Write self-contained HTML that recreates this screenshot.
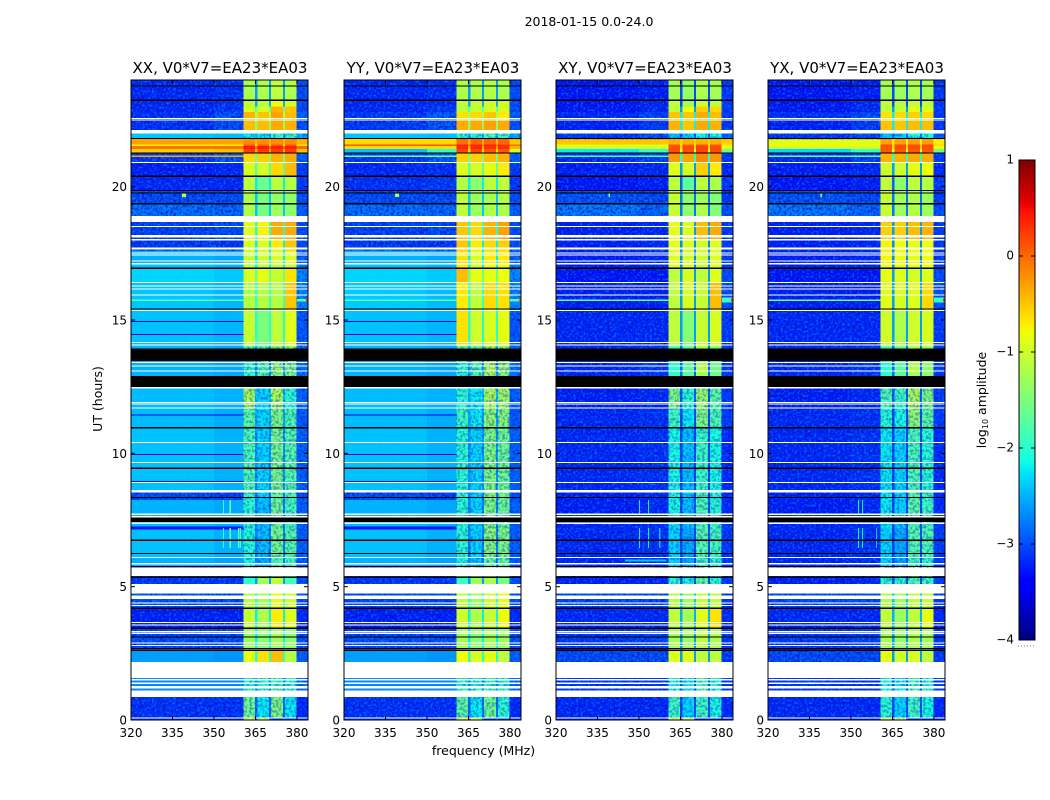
<!DOCTYPE html>
<html lang="en">
<head>
<meta charset="utf-8">
<title>2018-01-15 0.0-24.0</title>
<style>
html,body{margin:0;padding:0;background:#fff;width:1050px;height:800px;overflow:hidden}
svg{display:block}
text{font-family:"DejaVu Sans","Liberation Sans",sans-serif;fill:#000}
.tick{font-size:12px}
.label{font-size:12.5px}
.title{font-size:15px}
</style>
</head>
<body>
<svg id="figure" xmlns="http://www.w3.org/2000/svg" width="1050" height="800" viewBox="0 0 1050 800">
  <defs>
    <filter id="speckle-dark" x="0" y="0" width="1" height="1" color-interpolation-filters="sRGB">
      <feTurbulence type="fractalNoise" baseFrequency="0.38" numOctaves="2" seed="3"/>
      <feColorMatrix type="matrix" values="0 0 0 0 0  0 0 0 0 0.08  0 0 0 0 0.75  4 0 0 0 -1.7"/>
    </filter>
    <filter id="speckle-light" x="0" y="0" width="1" height="1" color-interpolation-filters="sRGB">
      <feTurbulence type="fractalNoise" baseFrequency="0.42" numOctaves="2" seed="11"/>
      <feColorMatrix type="matrix" values="0 0 0 0 0  0 0 0 0 0.6  0 0 0 0 1  4 0 0 0 -2"/>
    </filter>
  </defs>
  <text class="label" x="589" y="26" text-anchor="middle">2018-01-15 0.0-24.0</text>
  <text class="label" x="483.5" y="755" text-anchor="middle">frequency (MHz)</text>
  <text class="label" transform="translate(102,399) rotate(-90)" text-anchor="middle">UT (hours)</text>
  <text class="label" transform="translate(986,400) rotate(-90)" text-anchor="middle">log<tspan font-size="8" dy="2">10</tspan><tspan dy="-2"> amplitude</tspan></text>
  <g id="panels"></g>
  <g id="colorbar"></g>
  <line x1="1018" y1="646" x2="1035" y2="646" stroke="#777" stroke-width="1" stroke-dasharray="1 2"/>
</svg>
<script>
// UT row boundaries (hours) of the dynamic spectrum, top to bottom
const rowEdges = [24,23.24,23.0,22.8,22.5,22.0,21.78,21.58,21.52,21.42,21.27,20.9,20.39,19.86,19.36,18.9,18.0,17.6,17.1,16.94,16.4,15.42,14.0,12.9,12.44,11.7,10.96,8.54,8.25,7.75,7.2,6.1,5.73,5.1,4.2,3.44,2.67,2.17,0.87,0.05,0];
// Frequency boundaries (MHz) of the columns
const freqEdges = [320,350,360.6,364.8,365.7,369.9,370.6,375,375.7,379.9,384];
// Per-row log10 amplitude: bgLeft, bgRight, band1, band2, band3, band4, gap, edge
const bandLookup = [0,1,2,6,3,6,4,6,5,7];

const xxRows = [
[-3.2,-3.15,-1.22,-1.2,-1.1,-1.2,-2.6,-3.0],
[-3.2,-3.15,-1.1,-1.1,-.8,-.95,-2.5,-3.0],
[-3.2,-3.1,-.95,-.95,-.4,-.5,-1.6,-3.0],
[-3.15,-2.95,-.4,-.5,-.3,-.45,-1.2,-2.9],
[-3.15,-3.0,-.45,-.45,-.35,-.4,-1.4,-3.0],
[-2.4,-2.45,-2.2,-2.2,-1.9,-2.0,-2.5,-2.5],
[-.3,-.3,-.2,-.2,-.2,-.2,-.4,-.4],
[-.75,-.75,.1,.1,.1,.1,-.7,-.7],
[-.05,-.05,.4,.4,.35,.35,0,0],
[-.55,-.5,.25,.25,.25,.25,-.3,-.5],
[-3.1,-2.9,-.6,-.55,-.4,-.35,-1.5,-2.9],
[-3.25,-3.2,-.95,-.95,-.6,-.45,-1.7,-3.1],
[-3.2,-3.2,-1.1,-1.6,-1.1,-1.15,-2.2,-3.1],
[-3.0,-3.0,-1.2,-1.5,-1.35,-1.35,-2.4,-3.0],
[-2.8,-2.85,-1.2,-1.55,-1.3,-1.4,-2.4,-2.9],
[-3.05,-3.0,-.9,-.75,-.35,-.35,-2.0,-3.0],
[-3.1,-3.1,-.95,-.9,-.7,-.5,-2.2,-3.0],
[-2.5,-2.55,-1.05,-1.0,-.95,-.9,-2.2,-2.9],
[-2.42,-2.48,-1.1,-1.1,-1.1,-1.0,-2.2,-2.7],
[-2.32,-2.38,-.95,-.85,-1.05,-.65,-1.6,-2.7],
[-2.4,-2.47,-1.15,-1.15,-1.15,-.5,-1.9,-2.7],
[-2.42,-2.48,-1.05,-1.5,-1.1,-.9,-2.0,-2.95],
[-2.5,-2.55,-1.95,-1.8,-1.4,-1.55,-2.6,-2.8],
[-2.5,-2.55,-1.95,-1.8,-1.4,-1.55,-2.6,-2.8],
[-2.45,-2.5,-1.25,-2.3,-1.25,-2.0,-2.4,-2.9],
[-2.45,-2.52,-1.7,-2.25,-1.5,-1.8,-2.5,-2.95],
[-2.42,-2.5,-1.8,-2.3,-1.55,-1.75,-2.6,-2.9],
[-3.0,-3.05,-1.9,-2.3,-1.65,-1.8,-2.7,-3.0],
[-2.5,-2.55,-2.0,-2.4,-1.6,-1.85,-2.7,-2.9],
[-2.45,-2.52,-2.0,-2.4,-1.6,-1.85,-2.7,-2.9],
[-2.42,-2.5,-2.05,-2.4,-1.55,-1.75,-2.7,-2.9],
[-2.5,-2.57,-2.1,-2.5,-1.8,-1.9,-2.7,-2.9],
[-3.1,-3.1,-2.0,-1.25,-1.1,-1.85,-2.6,-3.0],
[-2.95,-3.0,-1.1,-1.25,-.85,-1.0,-2.0,-3.0],
[-3.25,-3.25,-1.05,-1.2,-.7,-.9,-2.2,-3.2],
[-3.0,-3.0,-1.3,-1.4,-1.25,-1.4,-2.2,-3.0],
[-2.6,-2.65,-.85,-.65,-.45,-1.15,-2.0,-2.9],
[-2.7,-2.7,-2,-2,-1.9,-2,-2.6,-2.8],
[-3.15,-3.15,-1.6,-2.2,-1.5,-2.2,-2.8,-3.2],
[-3.1,-3.1,-.95,-.95,-3.1,-3.1,-2.8,-3.1]
];
const yyRows = [
[-3.2,-3.15,-1.2,-1.2,-1.15,-1.2,-2.6,-3.0],
[-3.2,-3.15,-1.1,-1.05,-1.0,-1.0,-2.5,-3.0],
[-3.2,-3.1,-1.1,-1.05,-.95,-.95,-1.6,-3.0],
[-3.1,-2.9,-.65,-.6,-.5,-.7,-1.2,-2.9],
[-3.1,-2.95,-.35,-.35,-.3,-.35,-1.4,-3.0],
[-2.4,-2.45,-2.0,-2.0,-1.8,-1.9,-2.5,-2.5],
[-.6,-.6,-.05,0,0,0,-.4,-.5],
[.1,.1,.35,.35,.35,.3,0,0],
[-.6,-.6,.35,.35,.3,.3,-.3,-.4],
[-2.4,-1.9,.2,.2,.1,.1,-.6,-1.0],
[-3.1,-2.9,-.55,-.55,-.45,-.4,-1.5,-2.9],
[-3.2,-3.15,-.9,-.95,-.85,-.7,-1.7,-3.1],
[-3.15,-3.1,-1.15,-1.4,-1.1,-1.1,-2.2,-3.1],
[-3.0,-3.0,-1.1,-1.3,-1.25,-1.15,-2.4,-3.0],
[-2.8,-2.85,-1.1,-1.3,-1.2,-1.2,-2.4,-2.9],
[-3.05,-3.0,-.5,-.6,-.4,-.3,-2.0,-3.0],
[-3.1,-3.1,-.5,-.7,-.6,-.55,-2.2,-3.0],
[-2.5,-2.55,-.65,-.9,-.7,-.7,-2.2,-2.9],
[-2.42,-2.48,-.7,-.95,-.8,-.8,-2.2,-2.7],
[-2.32,-2.38,-.45,-.85,-.85,-.8,-1.6,-2.7],
[-2.38,-2.45,-.7,-1.1,-.6,-.65,-1.9,-2.7],
[-2.42,-2.48,-.65,-1.0,-.95,-.85,-2.0,-2.95],
[-2.5,-2.55,-2.0,-1.8,-1.25,-1.4,-2.6,-2.8],
[-2.5,-2.55,-2.0,-1.8,-1.25,-1.4,-2.6,-2.8],
[-2.45,-2.5,-2.0,-2.2,-1.25,-1.3,-2.4,-2.9],
[-2.45,-2.52,-1.9,-2.2,-1.4,-1.45,-2.5,-2.95],
[-2.42,-2.5,-2.0,-2.3,-1.5,-1.6,-2.6,-2.9],
[-3.0,-3.05,-2.0,-2.3,-1.45,-1.55,-2.7,-3.0],
[-2.5,-2.55,-2.0,-2.3,-1.5,-1.6,-2.7,-2.9],
[-2.45,-2.52,-2.0,-2.3,-1.5,-1.6,-2.7,-2.9],
[-2.42,-2.5,-2.0,-2.3,-1.45,-1.5,-2.7,-2.9],
[-2.5,-2.57,-2.1,-2.4,-1.7,-1.7,-2.7,-2.9],
[-3.1,-3.1,-1.9,-1.3,-1.2,-1.5,-2.6,-3.0],
[-3.0,-3.0,-1.1,-1.3,-1.0,-.85,-2.0,-3.0],
[-3.25,-3.25,-1.0,-1.2,-1.05,-.8,-2.2,-3.2],
[-3.0,-3.0,-1.25,-1.4,-1.25,-1.3,-2.2,-3.0],
[-2.6,-2.65,-.8,-.95,-.85,-1.1,-2.0,-2.9],
[-2.7,-2.7,-2,-2,-1.9,-2,-2.6,-2.8],
[-3.15,-3.15,-1.7,-2.2,-1.6,-2.0,-2.8,-3.2],
[-3.1,-3.1,-.95,-.95,-3.1,-3.1,-2.8,-3.1]
];
const xyRows = [
[-3.3,-3.25,-1.25,-1.35,-1.2,-1.25,-3,-3.1],
[-3.3,-3.2,-1.1,-1.3,-1.0,-1.1,-3,-3.1],
[-3.3,-3.2,-1.1,-.8,-.55,-.6,-2.6,-3.1],
[-3.2,-3.05,-.5,-.5,-.35,-.45,-2.2,-3.1],
[-3.25,-3.1,-.4,-.5,-.35,-.4,-2.2,-3.1],
[-3.1,-3,-2.4,-2.3,-2.1,-2.1,-2.8,-2.9],
[-.5,-.5,-.4,-.4,-.4,-.4,-.55,-.55],
[-.9,-.9,.1,.1,.1,.1,-.7,-.7],
[-.95,-.95,.15,.15,.2,.15,-.6,-.8],
[-2.2,-1.9,.15,.15,.2,.15,-.9,-1.6],
[-3.2,-3.05,-.25,-.3,-.15,-.25,-2,-3.1],
[-3.25,-3.2,-.9,-.95,-.55,-.7,-2.6,-3.2],
[-3.3,-3.25,-1.1,-1.7,-1.1,-1.2,-2.9,-3.1],
[-2.95,-3,-1.05,-1.4,-1.3,-1.45,-2.8,-3.1],
[-2.75,-2.85,-1.05,-1.4,-1.2,-1.45,-2.8,-3],
[-3.25,-3.2,-.85,-.9,-.45,-.35,-2.6,-3.1],
[-3.25,-3.2,-.9,-.95,-1.0,-.9,-2.7,-3.1],
[-3.25,-3.2,-.9,-.95,-1.0,-.9,-2.7,-3.1],
[-3.25,-3.2,-.95,-.95,-1.05,-.9,-2.7,-3.1],
[-3.3,-3.3,-1.1,-.95,-1.1,-.9,-2.6,-3],
[-3.25,-3.25,-1.1,-.95,-1.05,-.45,-2.6,-3],
[-3.2,-3.2,-1.1,-1.45,-1.05,-.95,-2.6,-3.1],
[-3.2,-3.1,-2,-1.7,-1.2,-1.6,-2.9,-3.1],
[-3.2,-3.1,-2,-1.7,-1.2,-1.6,-2.9,-3.1],
[-3.25,-3.2,-1.5,-2,-1.35,-1.7,-2.9,-3.1],
[-3.2,-3.15,-1.9,-2.2,-1.5,-1.8,-3,-3.1],
[-3.2,-3.15,-2.1,-2.4,-1.9,-2.1,-3,-3.2],
[-3.25,-3.2,-2.1,-2.4,-1.8,-2.0,-3,-3.2],
[-3.25,-3.2,-2.1,-2.4,-1.8,-2.0,-3,-3.2],
[-3.2,-3.15,-2.2,-2.4,-1.8,-1.9,-3,-3.1],
[-3.2,-3.15,-2.3,-2.5,-1.75,-1.85,-3,-3.1],
[-3.2,-3.15,-2.3,-2.5,-1.9,-2.0,-3,-3.1],
[-3.25,-3.2,-2.0,-2.1,-1.7,-2.0,-3,-3.1],
[-3.0,-3.0,-1.15,-1.3,-1.05,-1.1,-2.4,-3.1],
[-3.2,-3.2,-1.1,-1.25,-.9,-.65,-2.5,-3.2],
[-3.1,-3.05,-1.25,-1.3,-1.1,-1.2,-2.6,-3.1],
[-3.0,-3.0,-.9,-.9,-1.1,-1.1,-2.6,-3.1],
[-3.1,-3.1,-2.1,-2.2,-1.8,-2.0,-2.9,-3.1],
[-3.2,-3.2,-1.9,-2.3,-1.9,-2.1,-3,-3.2],
[-3.2,-3.2,-.95,-.95,-3.2,-3.2,-3,-3.2]
];
const yxRows = [
[-3.3,-3.25,-1.25,-1.3,-1.2,-1.25,-3,-3.1],
[-3.3,-3.2,-1.1,-1.15,-1.1,-1.1,-3,-3.1],
[-3.3,-3.2,-1.1,-1.05,-.85,-.9,-2.6,-3.1],
[-3.15,-3.0,-.65,-.6,-.55,-.6,-2.2,-3.1],
[-3.25,-3.1,-.5,-.5,-.45,-.45,-2.2,-3.1],
[-3.1,-3,-2.4,-2.3,-2.1,-2.1,-2.8,-2.9],
[-.9,-.9,-.3,-.3,-.3,-.3,-.7,-.7],
[-.75,-.75,.15,.15,.15,.15,-.6,-.6],
[-1.0,-1.0,.1,.15,.15,.15,-.6,-.8],
[-2.3,-1.9,.1,.1,.1,.1,-.9,-1.6],
[-3.2,-3.05,-.4,-.4,-.35,-.35,-2,-3.1],
[-3.25,-3.2,-1.0,-1.0,-.85,-.8,-2.6,-3.2],
[-3.3,-3.25,-1.1,-1.4,-1.1,-1.15,-2.9,-3.1],
[-2.95,-3,-1.05,-1.25,-1.2,-1.3,-2.8,-3.1],
[-2.75,-2.85,-1.05,-1.3,-1.15,-1.3,-2.8,-3],
[-3.25,-3.2,-.55,-.55,-.45,-.4,-2.6,-3.1],
[-3.25,-3.2,-.75,-.8,-.85,-.8,-2.7,-3.1],
[-3.25,-3.2,-.75,-.8,-.85,-.8,-2.7,-3.1],
[-3.25,-3.2,-.8,-.85,-.9,-.85,-2.7,-3.1],
[-3.3,-3.3,-.85,-.9,-.95,-.9,-2.6,-3],
[-3.25,-3.25,-.9,-.95,-.9,-.6,-2.6,-3],
[-3.2,-3.2,-1.0,-1.2,-1.0,-.95,-2.6,-3.1],
[-3.2,-3.1,-2,-1.7,-1.2,-1.4,-2.9,-3.1],
[-3.2,-3.1,-2,-1.7,-1.2,-1.4,-2.9,-3.1],
[-3.25,-3.2,-1.8,-1.9,-1.25,-1.5,-2.9,-3.1],
[-3.2,-3.15,-2.0,-2.1,-1.4,-1.7,-3,-3.1],
[-3.2,-3.15,-2.2,-2.3,-1.8,-2.0,-3,-3.2],
[-3.25,-3.2,-2.2,-2.3,-1.7,-1.9,-3,-3.2],
[-3.25,-3.2,-2.2,-2.3,-1.7,-1.9,-3,-3.2],
[-3.2,-3.15,-2.2,-2.4,-1.8,-1.85,-3,-3.1],
[-3.2,-3.15,-2.3,-2.5,-1.75,-1.8,-3,-3.1],
[-3.2,-3.15,-2.3,-2.5,-1.9,-2.0,-3,-3.1],
[-3.25,-3.2,-2.0,-2.0,-1.8,-1.9,-3,-3.1],
[-3.0,-3.0,-1.2,-1.3,-1.1,-1.05,-2.4,-3.1],
[-3.2,-3.2,-1.1,-1.3,-1.1,-.85,-2.5,-3.2],
[-3.1,-3.05,-1.25,-1.35,-1.2,-1.25,-2.6,-3.1],
[-3.0,-3.0,-.85,-1.0,-.95,-1.1,-2.6,-3.1],
[-3.1,-3.1,-2.1,-2.2,-1.9,-2.0,-2.9,-3.1],
[-3.2,-3.2,-2.0,-2.3,-1.9,-2.1,-3,-3.2],
[-3.2,-3.2,-.95,-.95,-3.2,-3.2,-3,-3.2]
];

// Narrow features: ut0, ut1, log10 amplitude, freq0, freq1
const xxFeatures = [[15.72,15.77,-1.7,320,360.6],[15.7,15.78,-1.8,380,384],[15.7,15.8,.3,383.2,384],[19.62,19.78,-1,338.4,339.8],
[14.92,14.96,-3.6,320,360.6],[14.43,14.47,-3.6,320,360.6],[11.42,11.46,-3.6,320,360.6],[9.93,9.97,-3.6,320,360.6],[8.93,8.97,-3.6,320,360.6],[7.15,7.25,-3.3,320,360.6],[21.12,21.16,-.3,320,360.6],[6.45,7.2,-1.9,353.3,353.7],[6.45,7.2,-1.6,355.7,356.1],[6.45,7.2,-1.6,358.6,359],[6.45,7.2,-1.9,359.3,359.7],[7.75,8.25,-1.9,353.3,353.7],[7.75,8.25,-1.6,355.7,356.1]];
const yyFeatures = [[15.72,15.77,-1.7,320,360.6],[15.7,15.78,-1.8,380,384],[15.7,15.8,.1,383.2,384],[19.62,19.78,-1.2,338.4,339.8],
[14.92,14.96,-3.6,320,360.6],[14.43,14.47,-3.6,320,360.6],[11.42,11.46,-3.6,320,360.6],[9.93,9.97,-3.6,320,360.6],[8.93,8.97,-3.6,320,360.6],[7.15,7.25,-3.3,320,360.6],[21.12,21.16,-1.5,320,360.6]];
const xyFeatures = [[15.72,15.77,-1.6,320,360.6],[15.65,15.85,-1.9,380,384],[15.7,15.8,.4,383.2,384],[19.62,19.78,-1.3,338.9,339.5],
[21.12,21.16,-1.8,320,360.6],[6.45,7.2,-2.2,350,350.4],[6.45,7.2,-2.2,353.3,353.7],[6.45,7.2,-2.4,357.3,357.7],[7.75,8.25,-2.2,350,350.4],[7.75,8.25,-2.2,353.3,353.7],[5.95,6.02,-2.4,345,360]];
const yxFeatures = [[15.72,15.77,-1.6,320,360.6],[15.65,15.85,-1.9,380,384],[15.7,15.8,.4,383.2,384],[19.62,19.78,-1.2,338.9,339.5],
[21.12,21.16,-1.6,320,360.6],[6.45,7.2,-2.2,352.5,352.9],[6.45,7.2,-2.2,354,354.4],[6.45,7.2,-2.4,359,359.4],[7.75,8.25,-2.2,352.5,352.9],[7.75,8.25,-2.2,354,354.4]];

// Flagged UT intervals shared by every polarization: missing data (white), zeroed data (black)
const missingIntervals = [[22.54,22.58],[22.48,22.52],[22.0,22.13],[20.89,20.93],[18.68,18.9],[18.49,18.53],[18.09,18.18],[17.99,18.03],[17.65,17.71],[17.5,17.54],[17.41,17.45],[17.2,17.24],[17.08,17.13],[16.39,16.43],[16.26,16.3],[16.14,16.18],[15.92,15.96],[15.33,15.37],[14.14,14.18],[14.04,14.08],[13.39,13.43],[13.26,13.3],[13.07,13.11],[12.44,12.49],[11.89,11.93],[11.83,11.87],[11.68,11.72],[10.39,10.43],[9.64,9.68],[8.89,8.93],[8.54,8.63],[7.69,7.75],[7.59,7.65],[7.35,7.41],[6.08,6.12],[5.84,5.88],[5.4,5.71],[4.74,5.1],[4.54,4.66],[4.36,4.4],[4.28,4.32],[3.63,3.67],[3.54,3.58],[3.29,3.33],[3.22,3.26],[2.86,2.9],[2.78,2.82],[1.58,2.17],[1.49,1.53],[1.35,1.41],[1.19,1.28],[0.87,1.1],[0.05,0.09]];
const zeroedIntervals = [[23.76,23.8],[23.22,23.26],[21.78,21.82],[21.25,21.29],[20.37,20.41],[19.84,19.88],[19.75,19.79],[19.34,19.38],[16.92,16.96],[15.4,15.44],[13.46,13.94],[12.48,12.9],[10.94,10.98],[9.42,9.46],[8.33,8.37],[7.43,7.59],[6.72,6.76],[6.23,6.27],[5.73,5.77],[5.33,5.39],[4.17,4.21],[3.42,3.46],[3.1,3.14],[2.64,2.7],[2.58,2.62]];

const panelTitles = ['XX, V0*V7=EA23*EA03','YY, V0*V7=EA23*EA03','XY, V0*V7=EA23*EA03','YX, V0*V7=EA23*EA03'];
const panelKeys = ['xx','yy','xy','yx'];
const panelRows = [xxRows,yyRows,xyRows,yxRows];
const panelFeatures = [xxFeatures,yyFeatures,xyFeatures,yxFeatures];
const freqTicks = [320,335,350,365,380];
const utTicks = [0,5,10,15,20];
const colorTicks = [-4,-3,-2,-1,0,1];
const colorTickLabels = ['\u22124','\u22123','\u22122','\u22121','0','1'];

const NS = 'http://www.w3.org/2000/svg';
const panelLefts = [131,344,556,768];
const panelWidth = 177, plotTop = 80, plotBottom = 720;
const cbLeft = 1019, cbWidth = 16, cbTop = 160, cbBottom = 640;
const freqMin = 320, freqMax = 384, utMin = 0, utMax = 24, ampMin = -4, ampMax = 1;

function xScale(left, f){ return left + (f - freqMin) / (freqMax - freqMin) * panelWidth; }
function yScale(h){ return plotBottom - (h - utMin) / (utMax - utMin) * (plotBottom - plotTop); }
function cbScale(v){ return cbBottom - (v - ampMin) / (ampMax - ampMin) * (cbBottom - cbTop); }

function ramp(t, pts){
  if (t <= pts[0][0]) return pts[0][1];
  for (let i = 1; i < pts.length; i++) {
    if (t <= pts[i][0]) return pts[i-1][1] + (pts[i][1]-pts[i-1][1]) * (t-pts[i-1][0]) / (pts[i][0]-pts[i-1][0]);
  }
  return pts[pts.length-1][1];
}
function jet(v){
  const t = Math.max(0, Math.min(1, (v - ampMin) / (ampMax - ampMin)));
  const r = ramp(t, [[0,0],[.35,0],[.66,1],[.89,1],[1,.5]]);
  const g = ramp(t, [[0,0],[.125,0],[.375,1],[.64,1],[.91,0],[1,0]]);
  const b = ramp(t, [[0,.5],[.11,1],[.34,1],[.65,0],[1,0]]);
  return 'rgb(' + Math.round(r*255) + ',' + Math.round(g*255) + ',' + Math.round(b*255) + ')';
}
function addRect(parent, name, x, y, w, h, fill){
  const el = document.createElementNS(NS, 'rect');
  
  
  el.setAttribute('x', x);
  el.setAttribute('y', y);
  el.setAttribute('width', w);
  el.setAttribute('height', h);
  el.setAttribute('fill', fill);
  el.setAttribute('shape-rendering', 'crispEdges');
  parent.appendChild(el);
  return el;
}
function addTick(parent, name, x1, y1, x2, y2){
  const el = document.createElementNS(NS, 'line');
  
  
  el.setAttribute('x1', x1);
  el.setAttribute('y1', y1);
  el.setAttribute('x2', x2);
  el.setAttribute('y2', y2);
  el.setAttribute('stroke', '#000');
  el.setAttribute('stroke-width', '1');
  parent.appendChild(el);
}
function addText(parent, name, cls, x, y, anchor, str){
  const el = document.createElementNS(NS, 'text');
  
  
  el.setAttribute('class', cls);
  el.setAttribute('x', x);
  el.setAttribute('y', y);
  el.setAttribute('text-anchor', anchor);
  el.textContent = str;
  parent.appendChild(el);
}
function addSpeckle(parent, name, filterId, x, y, w, h, opacity){
  const el = addRect(parent, name, x, y, w, h, '#000');
  el.setAttribute('filter', 'url(#' + filterId + ')');
  el.setAttribute('opacity', opacity);
}

const panelsRoot = document.getElementById('panels');
panelKeys.forEach(function(key, p){
  const left = panelLefts[p];
  const rows = panelRows[p];
  const g = document.createElementNS(NS, 'g');
  
  
  panelsRoot.appendChild(g);

  const clip = document.createElementNS(NS, 'clipPath');
  clip.setAttribute('id', 'clip-' + key);
  const clipRect = document.createElementNS(NS, 'rect');
  clipRect.setAttribute('x', left);
  clipRect.setAttribute('y', plotTop);
  clipRect.setAttribute('width', panelWidth);
  clipRect.setAttribute('height', plotBottom - plotTop);
  clip.appendChild(clipRect);
  g.appendChild(clip);

  const heat = document.createElementNS(NS, 'g');
  
  
  heat.setAttribute('clip-path', 'url(#clip-' + key + ')');
  g.appendChild(heat);

  rows.forEach(function(row, r){
    const y0 = yScale(rowEdges[r]), y1 = yScale(rowEdges[r+1]);
    bandLookup.forEach(function(src, c){
      const x0 = xScale(left, freqEdges[c]), x1 = xScale(left, freqEdges[c+1]);
      addRect(heat, 'heatmap-cell', x0, y0, x1 - x0, y1 - y0, jet(row[src]));
    });
  });
  rows.forEach(function(row, r){
    const y0 = yScale(rowEdges[r]), y1 = yScale(rowEdges[r+1]);
    if (y1 - y0 < 4) return;
    const bandX = xScale(left, freqEdges[2]);
    const edgeX = xScale(left, freqEdges[9]);
    if (row[0] < -2.7) {
      addSpeckle(heat, 'noise-texture-dark', 'speckle-dark', left, y0, bandX - left, y1 - y0, 0.7);
      addSpeckle(heat, 'noise-texture-light', 'speckle-light', left, y0, bandX - left, y1 - y0, 0.55);
    } else if (row[0] < -2) {
      addSpeckle(heat, 'noise-texture-light', 'speckle-light', left, y0, bandX - left, y1 - y0, 0.15);
    }
    if (row[7] < -2) {
      addSpeckle(heat, 'noise-texture-dark', 'speckle-dark', edgeX, y0, left + panelWidth - edgeX, y1 - y0, 0.45);
      addSpeckle(heat, 'noise-texture-light', 'speckle-light', edgeX, y0, left + panelWidth - edgeX, y1 - y0, 0.45);
    }
    if (row[3] < -1.7) {
      addSpeckle(heat, 'noise-texture-dark', 'speckle-dark', bandX, y0, edgeX - bandX, y1 - y0, 0.4);
    }
  });
  panelFeatures[p].forEach(function(f){
    const x0 = xScale(left, f[3]), x1 = xScale(left, f[4]);
    addRect(heat, 'narrow-rfi-feature', x0, yScale(f[1]), x1 - x0, yScale(f[0]) - yScale(f[1]), jet(f[2]));
  });
  missingIntervals.forEach(function(m){
    addRect(heat, 'missing-data-row', left, yScale(m[1]), panelWidth, yScale(m[0]) - yScale(m[1]), '#fff');
  });
  zeroedIntervals.forEach(function(m){
    addRect(heat, 'zeroed-data-row', left, yScale(m[1]), panelWidth, yScale(m[0]) - yScale(m[1]), '#000');
  });

  const frame = document.createElementNS(NS, 'rect');
  
  
  frame.setAttribute('x', left);
  frame.setAttribute('y', plotTop);
  frame.setAttribute('width', panelWidth);
  frame.setAttribute('height', plotBottom - plotTop);
  frame.setAttribute('fill', 'none');
  frame.setAttribute('stroke', '#000');
  g.appendChild(frame);

  freqTicks.forEach(function(f){
    const x = xScale(left, f);
    addTick(g, 'x-tick', x, plotBottom, x, plotBottom - 4);
    addTick(g, 'x-tick-top', x, plotTop, x, plotTop + 4);
    addText(g, 'x-tick-label', 'tick', x, plotBottom + 17, 'middle', String(f));
  });
  utTicks.forEach(function(h){
    const y = yScale(h);
    addTick(g, 'y-tick', left, y, left + 4, y);
    addTick(g, 'y-tick-right', left + panelWidth, y, left + panelWidth - 4, y);
    addText(g, 'y-tick-label', 'tick', left - 4, y + 4.5, 'end', String(h));
  });
  addText(g, 'panel-title', 'title', left + panelWidth / 2 + 0.5, plotTop - 7, 'middle', panelTitles[p]);
});

const cb = document.getElementById('colorbar');
const cbSteps = 240;
for (let i = 0; i < cbSteps; i++) {
  const v0 = ampMin + (ampMax - ampMin) * i / cbSteps;
  const v1 = ampMin + (ampMax - ampMin) * (i + 1) / cbSteps;
  addRect(cb, 'colorbar-swatch', cbLeft, cbScale(v1), cbWidth, cbScale(v0) - cbScale(v1), jet((v0 + v1) / 2));
}
const cbFrame = document.createElementNS(NS, 'rect');


cbFrame.setAttribute('x', cbLeft);
cbFrame.setAttribute('y', cbTop);
cbFrame.setAttribute('width', cbWidth);
cbFrame.setAttribute('height', cbBottom - cbTop);
cbFrame.setAttribute('fill', 'none');
cbFrame.setAttribute('stroke', '#000');
cb.appendChild(cbFrame);
colorTicks.forEach(function(v, i){
  const y = cbScale(v);
  addTick(cb, 'colorbar-tick', cbLeft, y, cbLeft + 4, y);
  addTick(cb, 'colorbar-tick-right', cbLeft + cbWidth, y, cbLeft + cbWidth - 4, y);
  addText(cb, 'colorbar-tick-label', 'tick', cbLeft - 5, y + 3.5, 'end', colorTickLabels[i]);
});
</script>
</body>
</html>
